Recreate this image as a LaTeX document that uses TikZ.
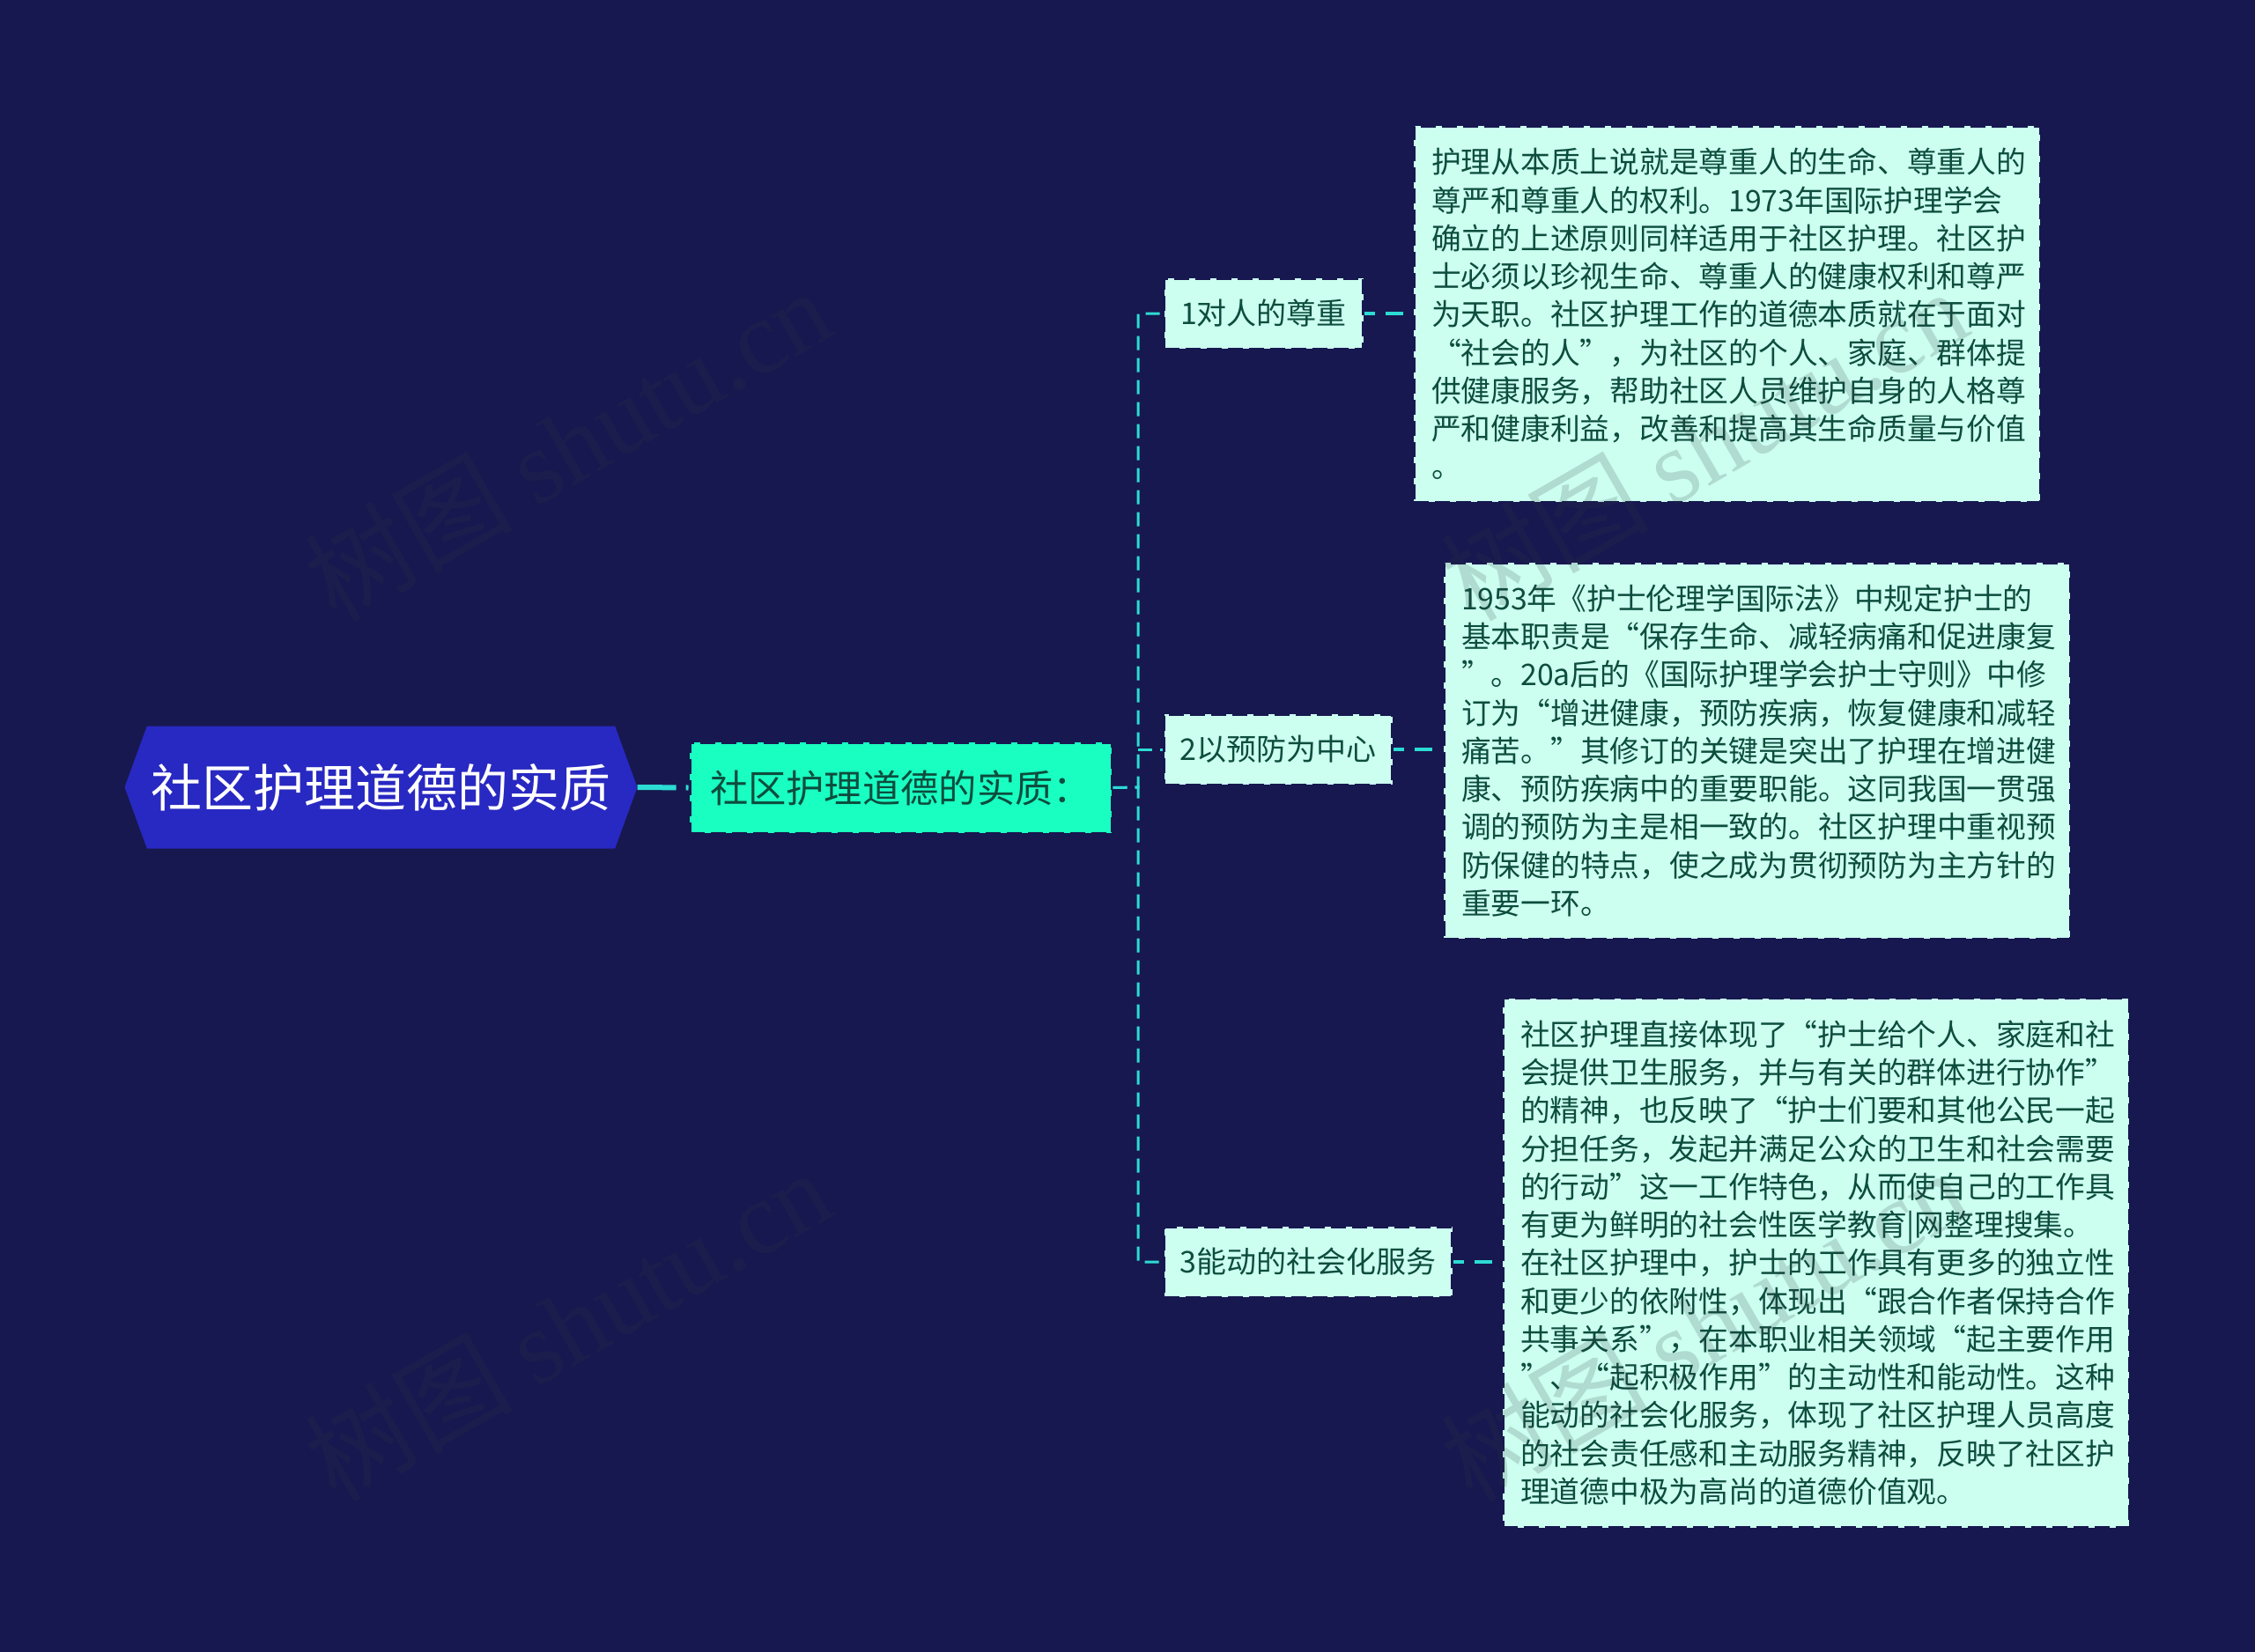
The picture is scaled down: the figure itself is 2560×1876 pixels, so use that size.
\documentclass[tikz,border=0pt]{standalone}
\usepackage{fontspec}
\setmainfont{Noto Sans CJK SC}
\newfontfamily\wmlatin{Liberation Serif}
\usetikzlibrary{shapes.symbols}
\definecolor{bgc}{HTML}{17184F}
\definecolor{rootc}{HTML}{2828C2}
\definecolor{mainc}{HTML}{19FFC2}
\definecolor{lightc}{HTML}{CCFFF0}
\definecolor{txtc}{HTML}{0D4D3E}
\definecolor{linec}{HTML}{2CDCD4}
\definecolor{wmc}{HTML}{303840}
\tikzset{
  x=1pt,y=-1pt,
  rootnode/.style={shape=signal,signal to=west and east,signal pointer angle=140,fill=rootc,draw=none,
    minimum width=582pt,minimum height=139pt,inner sep=0pt,text=white,
    font=\fontsize{58}{60}\selectfont},
  mainnode/.style={rectangle,fill=mainc,draw=bgc,line width=3pt,dash pattern=on 17pt off 7pt,
    minimum width=479pt,minimum height=103pt,inner sep=0pt,text=txtc,
    font=\fontsize{43.3}{50}\selectfont},
  subnode/.style={rectangle,fill=lightc,draw=bgc,line width=3pt,dash pattern=on 17pt off 7pt,
    minimum height=80pt,inner sep=0pt,text=txtc,font=\fontsize{34}{40}\selectfont},
  textbox/.style={rectangle,fill=lightc,draw=bgc,line width=3pt,dash pattern=on 17pt off 7pt,
    minimum width=711pt,inner sep=0pt,text=txtc,align=left,text width=671pt,
    font=\fontsize{33.75}{43.25}\selectfont},
  rootlink/.style={draw=linec,line width=6pt,dash pattern=on 44pt off 11pt},
  spinelink/.style={draw=linec,line width=3pt,dash pattern=on 16pt off 9pt},
  leaflink/.style={draw=linec,line width=3.5pt,dash pattern=on 20pt off 12pt,dash phase=8pt},
  wmark/.style={rotate=30,text=wmc,text opacity=.18,font=\fontsize{118}{125}\selectfont,inner sep=0pt}
}
\begin{document}
\begin{tikzpicture}
\useasboundingbox (0,0) rectangle (2560,1876);
\fill[bgc] (0,0) rectangle (2560,1876);

\node[rootnode] (root) at (432.5,894) {社区护理道德的实质};
\node[mainnode] (main) at (1022.5,894.5) {社区护理道德的实质：};

\node[subnode,minimum width=226pt] (n1) at (1434.5,356) {1对人的尊重};
\node[subnode,minimum width=259pt] (n2) at (1451,851) {2以预防为中心};
\node[subnode,minimum width=327pt] (n3) at (1485,1433) {3能动的社会化服务};

\node[textbox,minimum height=427pt] (b1) at (1960.5,356.5) {护理从本质上说就是尊重人的生命、尊重人的\\
尊严和尊重人的权利。1973年国际护理学会\\
确立的上述原则同样适用于社区护理。社区护\\
士必须以珍视生命、尊重人的健康权利和尊严\\
为天职。社区护理工作的道德本质就在于面对\\
“社会的人”，为社区的个人、家庭、群体提\\
供健康服务，帮助社区人员维护自身的人格尊\\
严和健康利益，改善和提高其生命质量与价值\\
。};

\node[textbox,minimum height=427pt] (b2) at (1994.5,852.5) {1953年《护士伦理学国际法》中规定护士的\\
基本职责是“保存生命、减轻病痛和促进康复\\
”。20a后的《国际护理学会护士守则》中修\\
订为“增进健康，预防疾病，恢复健康和减轻\\
痛苦。”其修订的关键是突出了护理在增进健\\
康、预防疾病中的重要职能。这同我国一贯强\\
调的预防为主是相一致的。社区护理中重视预\\
防保健的特点，使之成为贯彻预防为主方针的\\
重要一环。};

\node[textbox,minimum height=601pt] (b3) at (2061.5,1434) {社区护理直接体现了“护士给个人、家庭和社\\
会提供卫生服务，并与有关的群体进行协作”\\
的精神，也反映了“护士们要和其他公民一起\\
分担任务，发起并满足公众的卫生和社会需要\\
的行动”这一工作特色，从而使自己的工作具\\
有更为鲜明的社会性医学教育|网整理搜集。\\
在社区护理中，护士的工作具有更多的独立性\\
和更少的依附性，体现出“跟合作者保持合作\\
共事关系”，在本职业相关领域“起主要作用\\
”、“起积极作用”的主动性和能动性。这种\\
能动的社会化服务，体现了社区护理人员高度\\
的社会责任感和主动服务精神，反映了社区护\\
理道德中极为高尚的道德价值观。};

\coordinate (spine) at (1292,894);
\draw[rootlink] (root.east) -- (main.west);
\draw[spinelink] (main.east) -- (spine) |- (n1.west);
\draw[spinelink] (main.east) -- (spine) |- (n3.west);
\draw[spinelink] (spine |- n2.west) -- (n2.west);
\draw[leaflink] (n1.east) -- (b1.west |- n1.east);
\draw[leaflink] (n2.east) -- (b2.west |- n2.east);
\draw[leaflink] (n3.east) -- (b3.west |- n3.east);

\node[wmark] (w1) at (644,504) {树图 {\wmlatin shutu.cn}};
\node[wmark] (w2) at (644,1504) {树图 {\wmlatin shutu.cn}};
\node[wmark] (w3) at (1934,504) {树图 {\wmlatin shutu.cn}};
\node[wmark] (w4) at (1934,1504) {树图 {\wmlatin shutu.cn}};
\end{tikzpicture}
\end{document}
